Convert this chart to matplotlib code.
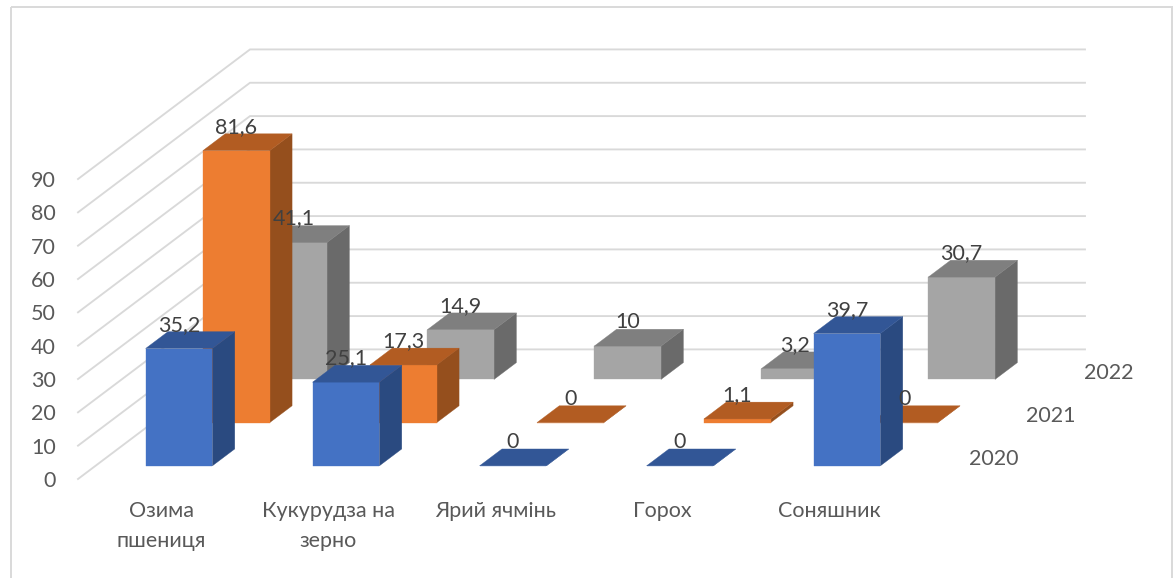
import matplotlib
matplotlib.use("Agg")
import matplotlib.pyplot as plt
from matplotlib.patches import Rectangle

plt.rcParams['font.family'] = ['Lato', 'DejaVu Sans']

# Chart values
categories = [["Озима", "пшениця"], ["Кукурудза на", "зерно"], ["Ярий ячмінь"], ["Горох"], ["Соняшник"]]
years = ["2020", "2021", "2022"]
values_2020 = [35.2, 25.1, 0, 0, 39.7]
values_2021 = [81.6, 17.3, 0, 1.1, 0]
values_2022 = [41.1, 14.9, 10, 3.2, 30.7]
value_labels_2020 = ["35,2", "25,1", "0", "0", "39,7"]
value_labels_2021 = ["81,6", "17,3", "0", "1,1", "0"]
value_labels_2022 = ["41,1", "14,9", "10", "3,2", "30,7"]
y_ticks = [0, 10, 20, 30, 40, 50, 60, 70, 80, 90]

FONT_SIZE = 15.5

# Oblique projection used by the 3D look of the chart (pixels of the figure)
ORIGIN_X, ORIGIN_Y = 78, 479
CAT_STEP = 167
DEPTH_DX, DEPTH_DY = 57.33, 43.2
UNIT_Y = 3.333


def project(cat, depth, value):
    x = ORIGIN_X + CAT_STEP * cat + DEPTH_DX * depth
    y = ORIGIN_Y - DEPTH_DY * depth - UNIT_Y * value
    return x, y


def draw_bar(ax, cat, series, value, colors):
    c0, c1 = cat + 0.3, cat + 0.7
    d0, d1 = series + 0.305, series + 0.695
    front_col, top_col, side_col = colors

    faces = [
        ([(c1, d0, 0), (c1, d1, 0), (c1, d1, value), (c1, d0, value)], side_col),
        ([(c0, d0, 0), (c1, d0, 0), (c1, d0, value), (c0, d0, value)], front_col),
        ([(c0, d0, value), (c1, d0, value), (c1, d1, value), (c0, d1, value)], top_col),
    ]
    for corners, col in faces:
        pts = [project(*p) for p in corners]
        ax.fill([p[0] for p in pts], [p[1] for p in pts], facecolor=col,
                edgecolor=col, linewidth=0.25)


fig = plt.figure(figsize=(11.74, 5.78), dpi=100)
ax = fig.add_axes([0, 0, 1, 1])
ax.set_xlim(0, 1174)
ax.set_ylim(578, 0)
ax.axis('off')

# Chart border, runs off the bottom of the picture
ax.add_patch(Rectangle((10.5, 6.8), 1161, 600, fill=False, edgecolor='#d9d9d9',
                       linewidth=1.4, zorder=0))

# Walls
n_cat = len(categories)
n_ser = len(years)
for v in y_ticks:
    x0, y0 = project(0, 0, v)
    x1, y1 = project(0, n_ser, v)
    x2, y2 = project(n_cat, n_ser, v)
    ax.plot([x0, x1, x2], [y0, y1, y2], color='#d9d9d9', linewidth=1.35, zorder=0,
            solid_joinstyle='miter')
    ax.text(x0 - 22, y0 + 2, str(v), ha='right', va='center', fontsize=FONT_SIZE, color='#595959')

# Bars, back row first
series = [
    (2, values_2022, value_labels_2022, ('#a5a5a5', '#7f7f7f', '#6a6a6a')),
    (1, values_2021, value_labels_2021, ('#ed7d31', '#b25c22', '#954f1d')),
    (0, values_2020, value_labels_2020, ('#4472c4', '#325696', '#2a4a80')),
]
for s, vals, labels, colors in series:
    for i, v in enumerate(vals):
        draw_bar(ax, i, s, v, colors)

# Data labels stay above all the bars
for s, vals, labels, colors in series:
    for i, v in enumerate(vals):
        x = project(i + 0.5, s + 0.305, v)[0]
        y = project(i + 0.5, s + 0.695, v)[1]
        ax.text(x, y - 7, labels[i], ha='center', va='center', fontsize=FONT_SIZE,
                color='#404040', zorder=5)

# Category labels, one text per line
for i, lines in enumerate(categories):
    x, y = project(i + 0.5, 0, 0)
    for j, line in enumerate(lines):
        ax.text(x, y + 32 + 30 * j, line, ha='center', va='center', fontsize=FONT_SIZE,
                color='#595959')

# Year labels to the right of the floor
for s, year in enumerate(years):
    x, y = project(n_cat, s + 0.5, 0)
    ax.text(x + 52, y + 2, year, ha='center', va='center', fontsize=FONT_SIZE, color='#595959')

fig.savefig("out.png", dpi=100, facecolor='white')
